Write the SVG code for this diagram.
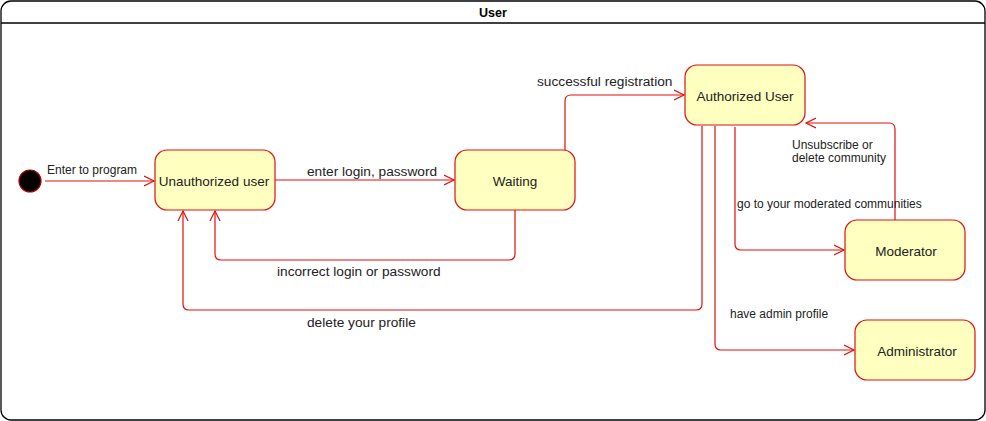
<svg xmlns="http://www.w3.org/2000/svg" width="986" height="421" viewBox="0 0 986 421">
<style>
.frame{fill:#fff;stroke:#000;stroke-width:1.3}
.st{fill:#FFFFC0;stroke:#E01010;stroke-width:1.2}
.nt{font-family:"Liberation Sans",Arial,sans-serif;font-size:13.5px;fill:#222;text-anchor:middle}
.lb{font-family:"Liberation Sans",Arial,sans-serif;font-size:12px;fill:#222}
.lg{font-family:"Liberation Sans",Arial,sans-serif;font-size:13.7px;fill:#222}
.e{fill:none;stroke:#E01010;stroke-width:1.2}
</style>
<defs>
<marker id="ah" markerWidth="12" markerHeight="12" refX="10" refY="5" orient="auto" markerUnits="userSpaceOnUse" viewBox="0 0 12 10">
<path d="M0,0 L10,5 L0,10" fill="none" stroke="#E01010" stroke-width="1.2"/>
</marker>
</defs>
<g id="frame">
<rect class="frame" x="1" y="1" width="984" height="419" rx="10"/>
<line x1="1" y1="23" x2="985" y2="23" stroke="#000" stroke-width="1.3"/>
<text x="493" y="17" font-family="Liberation Sans,Arial,sans-serif" font-size="12.5" font-weight="bold" text-anchor="middle">User</text>
</g>
<g id="connectors">
<path class="e" d="M45,181 L154,181" marker-end="url(#ah)"/>
<path class="e" d="M275,180 L454,180" marker-end="url(#ah)"/>
<path class="e" d="M565,150 L565,101 Q565,95 571,95 L684,95" marker-end="url(#ah)"/>
<path class="e" d="M515,210 L515,254 Q515,260 509,260 L221,260 Q215,260 215,254 L215,211" marker-end="url(#ah)"/>
<path class="e" d="M702,126 L702,304 Q702,310 696,310 L189,310 Q183,310 183,304 L183,211" marker-end="url(#ah)"/>
<path class="e" d="M735,127 L735,244 Q735,250 741,250 L844,250" marker-end="url(#ah)"/>
<path class="e" d="M895,220 L895,129 Q895,123 889,123 L806,123" marker-end="url(#ah)"/>
<path class="e" d="M715,126 L715,344 Q715,350 721,350 L854,350" marker-end="url(#ah)"/>
<text class="lb" x="47" y="174">Enter to program</text>
<text class="lg" x="307" y="176">enter login, password</text>
<text class="lg" x="537" y="86">successful registration</text>
<text class="lg" x="277" y="276">incorrect login or password</text>
<text class="lg" x="307" y="327">delete your profile</text>
<text class="lb" x="737" y="208">go to your moderated communities</text>
<text class="lb" x="792" y="149">Unsubscribe or</text>
<text class="lb" x="792" y="162">delete community</text>
<text class="lb" x="730" y="318">have admin profile</text>
</g>
<g id="initial">
<circle cx="30" cy="181" r="11" fill="#000" stroke="#B00000" stroke-width="1.2"/>
</g>
<g id="unauthorized">
<rect class="st" x="155" y="150" width="120" height="60" rx="12"/>
<text class="nt" x="214" y="186">Unauthorized user</text>
</g>
<g id="waiting">
<rect class="st" x="455" y="150" width="120" height="60" rx="12"/>
<text class="nt" x="515" y="186">Waiting</text>
</g>
<g id="authorized">
<rect class="st" x="685" y="65" width="120" height="60" rx="12"/>
<text class="nt" x="745" y="101">Authorized User</text>
</g>
<g id="moderator">
<rect class="st" x="845" y="220" width="120" height="60" rx="12"/>
<text class="nt" x="906" y="256">Moderator</text>
</g>
<g id="administrator">
<rect class="st" x="855" y="320" width="120" height="60" rx="12"/>
<text class="nt" x="917" y="356">Administrator</text>
</g>
</svg>
